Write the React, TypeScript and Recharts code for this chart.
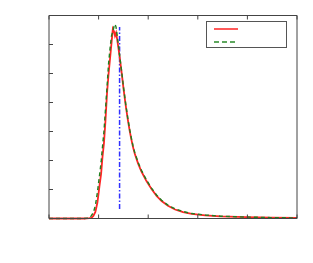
import React from 'react';
import { LineChart, Line, XAxis, YAxis, ReferenceLine } from 'recharts';

// x positions (axis runs 0..50), two density curves
const xs = [0, 7.11, 8.13, 8.54, 8.94, 9.35, 9.76, 10.16, 10.51, 10.77, 11.08, 11.38, 11.69, 11.99, 12.3, 12.6, 12.87, 13.11, 13.31, 13.52, 13.72, 14.02, 14.33, 14.7, 15.04, 15.45, 15.85, 16.26, 16.61, 16.93, 17.28, 17.95, 18.64, 19.65, 20.67, 21.69, 22.7, 23.98, 25.41, 27.03, 28.8, 31.5, 34.55, 39.84, 44.72, 50];
const redSeries = [0, 0, 0.01, 0.02, 0.09, 0.23, 0.55, 1.1, 1.55, 2.1, 2.6, 3.36, 4.3, 4.95, 5.5, 6.05, 6.54, 6.45, 6.3, 6.4, 6.2, 5.85, 5.45, 4.95, 4.45, 3.92, 3.45, 3.03, 2.72, 2.47, 2.24, 1.9, 1.62, 1.29, 1.02, 0.78, 0.6, 0.44, 0.31, 0.22, 0.16, 0.11, 0.075, 0.045, 0.03, 0.02];
const greenSeries = [0, 0, 0.02, 0.1, 0.2, 0.45, 0.9, 1.45, 1.95, 2.45, 3.0, 3.75, 4.5, 5.3, 5.85, 6.3, 6.45, 6.62, 6.7, 6.6, 6.35, 5.95, 5.5, 5.0, 4.5, 3.97, 3.5, 3.08, 2.77, 2.51, 2.28, 1.94, 1.66, 1.33, 1.05, 0.81, 0.63, 0.46, 0.33, 0.24, 0.17, 0.12, 0.08, 0.05, 0.03, 0.02];
const markerX = 14.23;
const markerRange = [0.33, 6.6];
const xTicks = [0, 10, 20, 30, 40, 50];
const yTicks = [0, 1, 2, 3, 4, 5, 6, 7];

const data = xs.map((x, i) => ({ x, red: redSeries[i], green: greenSeries[i] }));

const frame = '#444';

export default function App() {
  return (
    <div style={{ position: 'absolute', left: 0, top: 0, width: 313, height: 263, background: '#fff' }}>
      <LineChart width={313} height={263} data={data} margin={{ top: 15.5, right: 16, bottom: 44.5, left: 49 }}>
        <XAxis xAxisId="b" dataKey="x" type="number" domain={[0, 50]} ticks={xTicks} mirror height={1}
          tickFormatter={() => ''} stroke={frame} tickSize={4} />
        <XAxis xAxisId="t" orientation="top" dataKey="x" type="number" domain={[0, 50]} ticks={xTicks} mirror height={1}
          tickFormatter={() => ''} stroke={frame} tickSize={4} />
        <YAxis yAxisId="l" type="number" domain={[0, 7]} ticks={yTicks} mirror width={1}
          tickFormatter={() => ''} stroke={frame} tickSize={4} />
        <YAxis yAxisId="r" orientation="right" type="number" domain={[0, 7]} ticks={yTicks} mirror width={1}
          tickFormatter={() => ''} stroke={frame} tickSize={4} />
        <ReferenceLine xAxisId="b" yAxisId="l"
          segment={[{ x: markerX, y: markerRange[0] }, { x: markerX, y: markerRange[1] }]}
          stroke="#3030ff" strokeWidth={1.5} strokeDasharray="5 2 1.5 2" />
        <Line xAxisId="b" yAxisId="l" dataKey="red" type="linear" stroke="#ff2525" strokeWidth={1.8}
          dot={false} isAnimationActive={false} />
        <Line xAxisId="b" yAxisId="l" dataKey="green" type="linear" stroke="#1f801f" strokeWidth={1.4}
          strokeDasharray="4 3" dot={false} isAnimationActive={false} />
      </LineChart>
      <div style={{ position: 'absolute', left: 206, top: 21, width: 81, height: 27, border: '1px solid #555', background: '#fff', boxSizing: 'border-box' }}>
        <svg width={80} height={26} style={{ display: 'block' }}>
          <line x1={7} x2={31} y1={7} y2={7} stroke="#ff3030" strokeWidth={1.6} />
          <line x1={7} x2={31} y1={20} y2={20} stroke="#2a8a2a" strokeWidth={1.6} strokeDasharray="5 3" />
        </svg>
      </div>
    </div>
  );
}
